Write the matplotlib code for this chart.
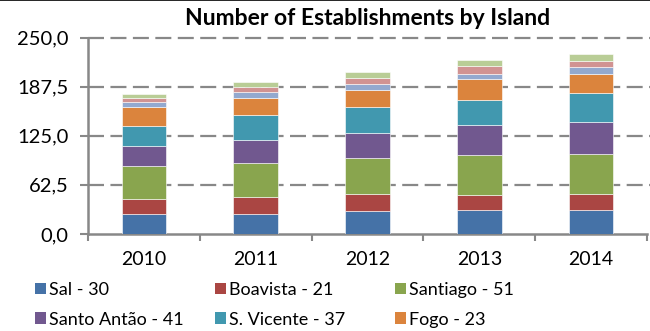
import matplotlib
matplotlib.use("Agg")
import matplotlib.pyplot as plt
from matplotlib.lines import Line2D
from matplotlib.patches import Patch
import numpy as np

plt.rcParams['font.family'] = ['Lato', 'DejaVu Sans']

years = ["2010", "2011", "2012", "2013", "2014"]
islands = ["Sal", "Boavista", "Santiago", "Santo Antão", "S. Vicente", "Fogo",
           "São Nicolau", "Maio", "Brava"]
sal = [26, 26, 29, 30, 30]
boavista = [19, 21, 22, 20, 21]
santiago = [42, 43, 46, 50, 51]
santo_antao = [25, 29, 32, 39, 41]
s_vicente = [26, 32, 33, 32, 37]
fogo = [24, 22, 21, 26, 23]
sao_nicolau = [6, 8, 8, 7, 9]
maio = [5, 6, 8, 10, 8]
brava = [5, 7, 7, 7, 9]
series = [sal, boavista, santiago, santo_antao, s_vicente, fogo,
          sao_nicolau, maio, brava]
colors = ["#4572A7", "#AA4643", "#89A54E", "#71588F", "#4198AF", "#DB843D",
          "#93A9CF", "#D19392", "#B9CD96"]
yticks = [0, 62.5, 125, 187.5, 250]

fig = plt.figure(figsize=(6.5, 3.31), dpi=100)
ax = fig.add_axes([88 / 650, 1 - 234 / 331, (647 - 88) / 650, (234 - 37.5) / 331])

x = np.arange(len(years))
bottom = np.zeros(len(years))
handles = []
for name, vals, c in zip(islands, series, colors):
    ax.bar(x, vals, width=0.4, bottom=bottom, color=c,
           edgecolor="#ffffff", linewidth=0.4, zorder=3)
    bottom += np.array(vals)
    handles.append(Patch(facecolor=c, edgecolor="none",
                         label=f"{name} - {vals[-1]}"))

ax.set_xlim(-0.5, len(years) - 0.5)
ax.set_ylim(0, 250)
ax.set_yticks(yticks)
ax.set_yticklabels([f"{v:.1f}".replace(".", ",") for v in yticks], fontsize=14.5)
ax.set_xticks(x)
ax.set_xticklabels(years, fontsize=14)
ax.set_xticks(np.arange(len(years) + 1) - 0.5, minor=True)
ax.tick_params(axis="x", which="major", length=0, pad=12)
ax.tick_params(axis="x", which="minor", length=5, width=1.5, color="#888888")
ax.tick_params(axis="y", length=6, width=1.5, color="#888888", pad=8)

for s in ["top", "right"]:
    ax.spines[s].set_visible(False)
for s in ["left", "bottom"]:
    ax.spines[s].set_color("#888888")
    ax.spines[s].set_linewidth(1.8)

# dashed gridlines running to the right edge of the figure
for v in yticks[1:]:
    ax.plot([-0.5, len(years) - 0.5 + 0.05], [v, v], color="#888888",
            linewidth=1.6, linestyle=(0, (7.2, 2.9)), zorder=1, clip_on=False)

ax.set_title("Number of Establishments by Island", fontsize=16.5,
             fontweight="bold", pad=9)

# legend laid out in three aligned columns
col_x = [35 / 650, 215 / 650, 395 / 650]
for i, cx in enumerate(col_x):
    hs = [handles[i], handles[i + 3]]
    fig.legend(handles=hs, loc="upper left", bbox_to_anchor=(cx, 1 - 282 / 331),
               frameon=False, fontsize=13, handlelength=0.6,
               handleheight=0.6, handletextpad=0.15, labelspacing=0.75,
               borderaxespad=0, borderpad=0)

fig.add_artist(Line2D([0, 1], [0.999, 0.999], color="black", linewidth=1.2))

fig.savefig("out.png", dpi=100)
